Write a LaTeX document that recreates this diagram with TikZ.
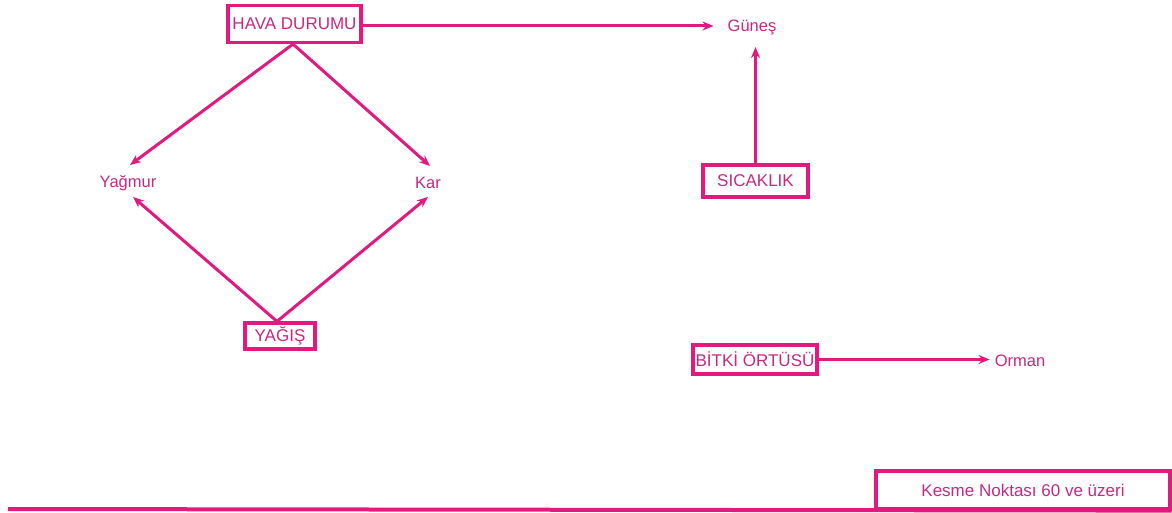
\documentclass[tikz,border=0pt]{standalone}
\usepackage{fontspec}
\setmainfont{Liberation Sans}
\usetikzlibrary{arrows.meta,calc}
\definecolor{pinkline}{RGB}{226,26,127}
\definecolor{pinktext}{RGB}{198,40,128}
\tikzset{
  boxnode/.style={draw=pinkline,line width=3.2pt,text=pinktext,font=\fontsize{17}{20}\selectfont,inner sep=0pt,anchor=center},
  plain/.style={text=pinktext,font=\fontsize{16.5}{20}\selectfont,inner sep=0pt},
  conn/.style={draw=pinkline,line width=3pt,-{Stealth[length=11pt,width=9pt]}},
  bar/.style={draw=pinkline,line width=4pt}
}
\begin{document}
\begin{tikzpicture}[x=1pt,y=-1pt]
\useasboundingbox (0,0) rectangle (1172,513);
\node[boxnode,minimum width=133pt,minimum height=37pt] (hava) at (294.5,24) {HAVA DURUMU};
\node[plain] (gunes) at (752,27) {Güneş};
\node[boxnode,minimum width=105pt,minimum height=32pt] (sicak) at (755.5,181) {SICAKLIK};
\node[plain] (yagmur) at (128,183) {Yağmur};
\node[plain] (kar) at (428,183) {Kar};
\node[boxnode,minimum width=70pt,minimum height=26pt] (yagis) at (280,336) {YAĞIŞ};
\node[boxnode,minimum width=124pt,minimum height=29pt] (bitki) at (755,359.5) {BİTKİ ÖRTÜSÜ};
\node[plain] (orman) at (1020,361) {Orman};
\node[boxnode,minimum width=294pt,minimum height=38pt] (kesme) at (1023,490) {Kesme Noktası 60 ve üzeri};
\coordinate (lstart) at (8,509);

\draw[conn] ([shift={(0,2)}]hava.east) -- ([shift={(-14,2)}]hava.east -| gunes.west);
\draw[conn] (sicak.north) -- ([shift={(0,20)}]sicak.north |- gunes.center);
\draw[conn] ([shift={(-1.5,0)}]hava.south) -- ([shift={(2,-18)}]yagmur.center);
\draw[conn] ([shift={(-1.5,0)}]hava.south) -- ([shift={(2,-17)}]kar.center);
\draw[conn] ([shift={(-3,0)}]yagis.north) -- ([shift={(5,14)}]yagmur.center);
\draw[conn] ([shift={(-3,0)}]yagis.north) -- ([shift={(0,14)}]kar.center);
\draw[conn] (bitki.east) -- ([shift={(-5,0)}]bitki.east -| orman.west);
\draw[bar] (lstart) -- (kesme.south east);
\end{tikzpicture}
\end{document}
